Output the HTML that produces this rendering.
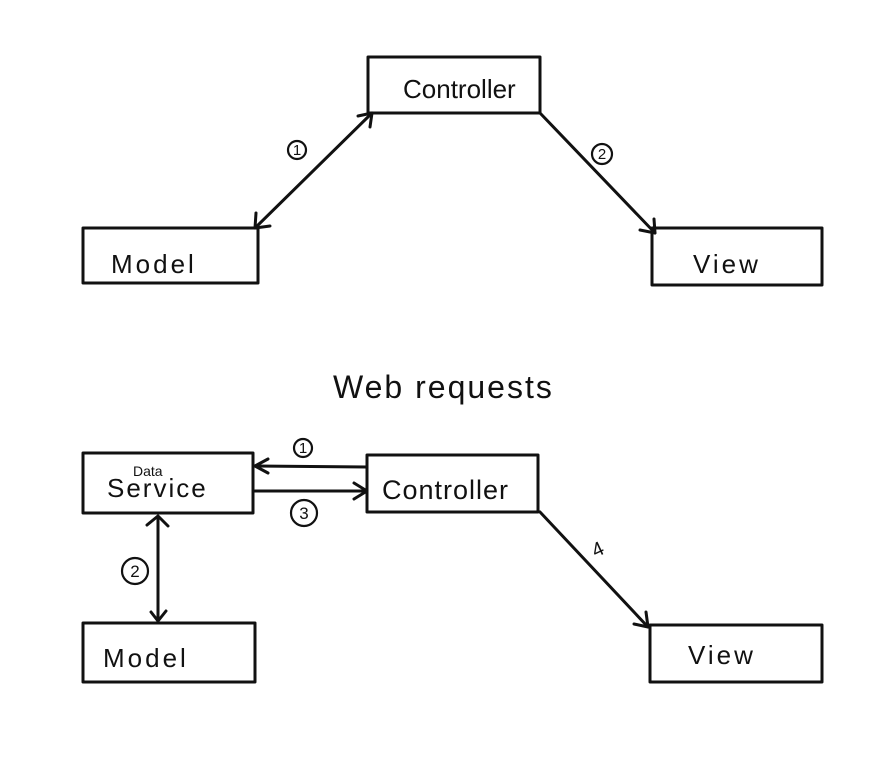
<!DOCTYPE html>
<html><head><meta charset="utf-8"><style>
html,body{margin:0;padding:0;background:#fff;}
svg{display:block;}
text{font-family:"Liberation Sans",sans-serif;fill:#111;}
</style></head><body>
<svg width="884" height="769" viewBox="0 0 884 769" xmlns="http://www.w3.org/2000/svg">
<g fill="none" stroke="#111" stroke-width="3" stroke-linecap="round" stroke-linejoin="round">
<rect x="368" y="57" width="172" height="56"/>
<rect x="83" y="228" width="175" height="55"/>
<rect x="652" y="228" width="170" height="57"/>
<line x1="372" y1="113" x2="255" y2="228"/>
<polyline points="358,116 372,113 370,127"/>
<polyline points="256,213 255,228 270,226"/>
<line x1="540" y1="113" x2="655" y2="233"/>
<polyline points="640,230 655,233 654,219"/>
<circle cx="297" cy="150" r="9" stroke-width="2.2"/>
<circle cx="602" cy="154" r="10" stroke-width="2.2"/>
<rect x="83" y="453" width="170" height="60"/>
<rect x="367" y="455" width="171" height="57"/>
<rect x="83" y="623" width="172" height="59"/>
<rect x="650" y="625" width="172" height="57"/>
<line x1="367" y1="467" x2="255" y2="466"/>
<polyline points="268,459 255,466 268,473"/>
<line x1="255" y1="491" x2="367" y2="491"/>
<polyline points="354,483 367,491 354,499"/>
<line x1="158" y1="517" x2="158" y2="621"/>
<polyline points="147,525 158,516 168,526"/>
<polyline points="151,612 158,621 166,611"/>
<line x1="540" y1="512" x2="648" y2="627"/>
<polyline points="634,624 648,627 646,612"/>
<circle cx="303" cy="448" r="9" stroke-width="2.2"/>
<circle cx="304" cy="513" r="13" stroke-width="2.2"/>
<circle cx="135" cy="571" r="13" stroke-width="2.2"/>
</g>
<g font-size="15" text-anchor="middle">
<text x="297" y="155">1</text>
<text x="602" y="159">2</text>
<text x="303" y="453">1</text>
<text x="304" y="519" font-size="17">3</text>
<text x="135" y="577" font-size="17">2</text>
</g>
<text x="598" y="556" font-size="20" text-anchor="middle" transform="rotate(-25 598 550)">4</text>
<g font-size="26">
<text x="403" y="98">Controller</text>
<text x="111" y="273" letter-spacing="3">Model</text>
<text x="693" y="273" letter-spacing="3">View</text>
<text x="107" y="497" letter-spacing="2">Service</text>
<text x="382" y="499" font-size="27" letter-spacing="1">Controller</text>
<text x="103" y="667" letter-spacing="3">Model</text>
<text x="688" y="664" letter-spacing="3">View</text>
</g>
<text x="133" y="476" font-size="14">Data</text>
<text x="333" y="398" font-size="32" letter-spacing="2">Web  requests</text>
</svg>
</body></html>
